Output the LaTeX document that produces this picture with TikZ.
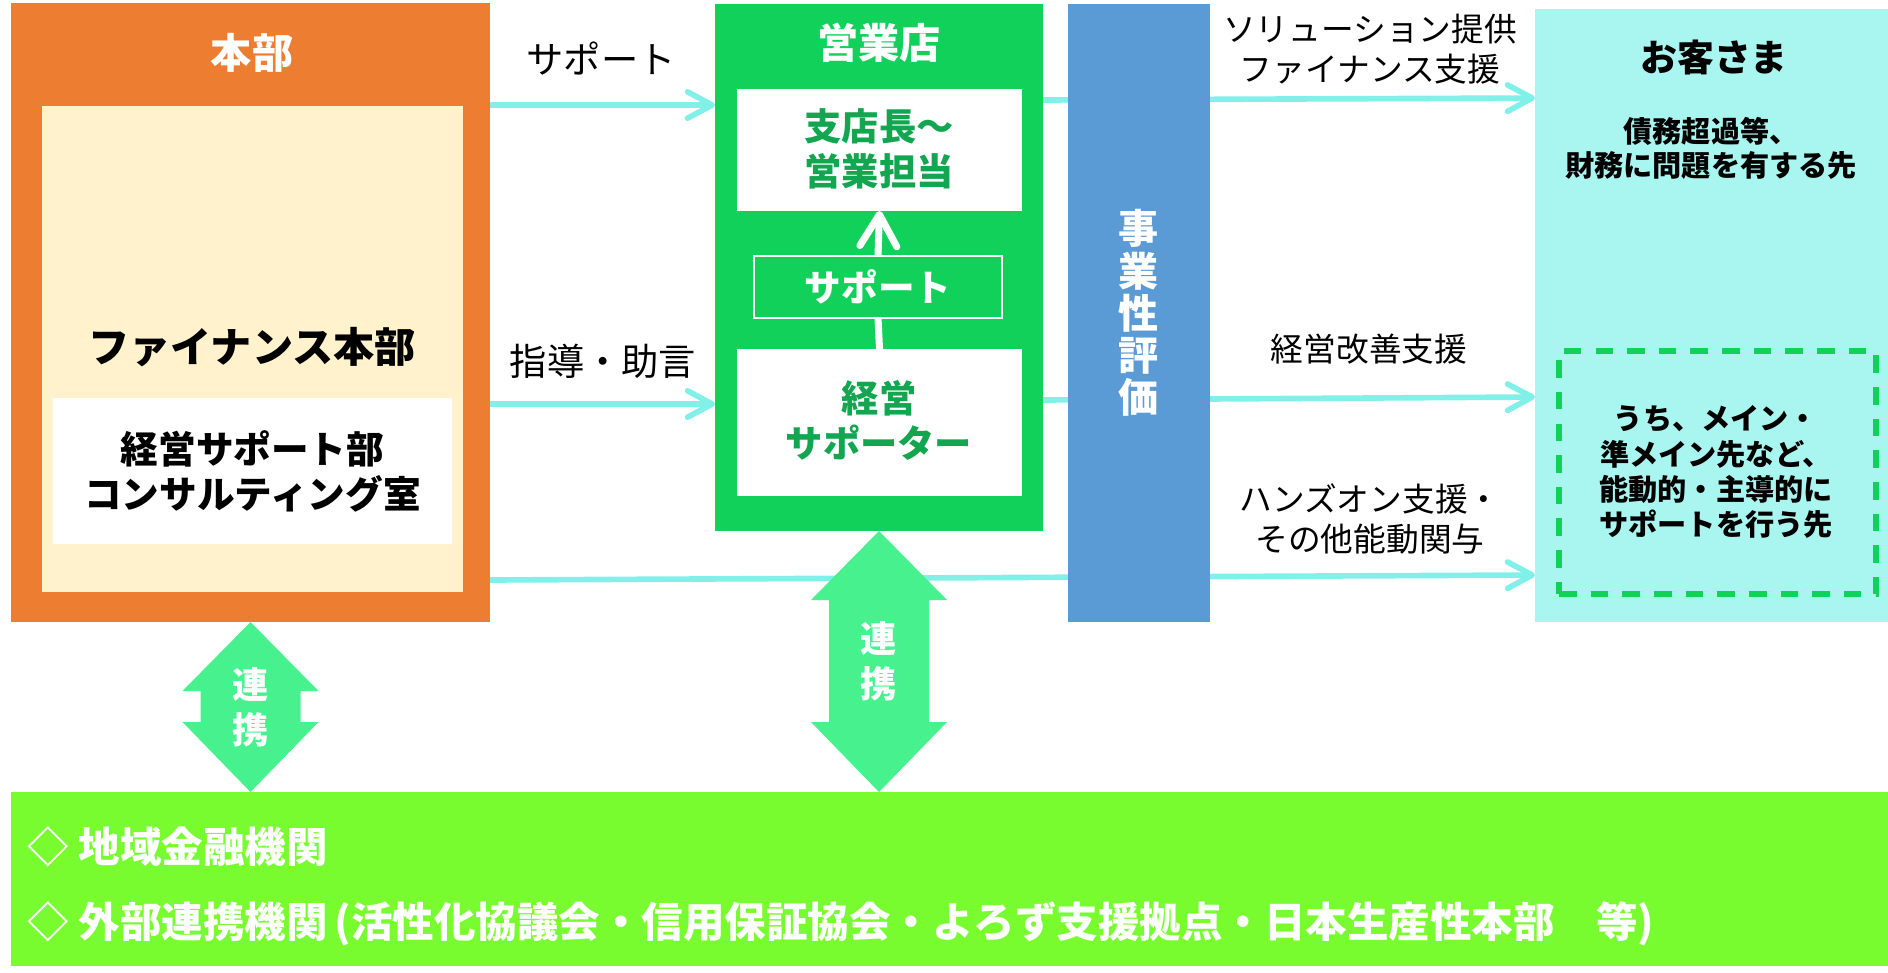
\documentclass[tikz,border=0pt]{standalone}
\usepackage{fontspec}
\setmainfont{Noto Sans CJK JP}
\usetikzlibrary{fit,calc,arrows.meta}
\definecolor{honbuorange}{HTML}{ED7D31}
\definecolor{honbucream}{HTML}{FFF2CC}
\definecolor{tengreen}{HTML}{12D15A}
\definecolor{tentext}{HTML}{12A650}
\definecolor{hyokablue}{HTML}{5B9BD5}
\definecolor{kyakucyan}{HTML}{A9F5F0}
\definecolor{flowcyan}{HTML}{80F0E8}
\definecolor{renkeigreen}{HTML}{47F28E}
\definecolor{kikanlime}{HTML}{78FC30}
\tikzset{area/.style={inner sep=0pt,outer sep=0pt,fit={#1}},
	flow/.style={draw=flowcyan,line width=1.6pt,-{Straight Barb[length=7pt,width=7.5pt,round]}},
	lbl/.style={font=\fontsize{10.6}{12.6}\selectfont,align=center},
	smalllbl/.style={font=\fontsize{9.3}{11.4}\selectfont,align=center},
	boxtxt/.style={font=\bfseries\fontsize{10.6}{12.6}\selectfont,align=center,text=tentext}}
\newcommand{\renkeiarrow}[2]{\fill[renkeigreen] (#1) -- ++(68,69) -- ++(-18,0) -- ($(#2)+(50,-70)$) -- ++(18,0) -- (#2)
	-- ++(-68,-70) -- ++(18,0) -- ($(#1)+(-50,69)$) -- ++(-18,0) -- cycle;}

\begin{document}
\begin{tikzpicture}[x=0.01cm,y=-0.01cm]
	\useasboundingbox (0,0) rectangle (1888,972);
	\node[area={(11,3) (490,622)},fill=honbuorange] (honbu) {};
	\node[area={(42,106) (463,592)},fill=honbucream] (finance) {};
	\node[area={(53,398) (452,544)},fill=white] (consul) {};
	\node[white,font=\bfseries\fontsize{11.7}{14}\selectfont] (honbutitle) at (252,53) {本部};
	\node[font=\bfseries\fontsize{11.7}{14}\selectfont] (financetxt) at (252,347) {ファイナンス本部};
	\node[font=\bfseries\fontsize{10.7}{12.8}\selectfont,align=center] (consultxt) at (consul) {経営サポート部\\コンサルティング室};
	\node[area={(715,4) (1043,531)},fill=tengreen] (eigyo) {};
	\node[white,font=\bfseries\fontsize{11.7}{14}\selectfont] (eigyotitle) at (879,43) {営業店};
	\node[area={(737,89) (1022,211)},fill=white] (shiten) {};
	\node[area={(754,256) (1002,318)},draw=white,line width=0.5pt] (support) {};
	\node[area={(737,349) (1022,496)},fill=white] (keiei) {};
	\node[boxtxt] (shitentxt) at (879,149) {支店長～\\営業担当};
	\node[white,font=\bfseries\fontsize{10.4}{12.5}\selectfont] (supporttxt) at (support) {サポート};
	\node[boxtxt,font=\bfseries\fontsize{10.6}{12.8}\selectfont] (keieitxt) at (879,420) {経営\\サポーター};
	\draw[white,line width=2pt,-{Straight Barb[length=9pt,width=10.5pt,round]}] (support.north) -- (shiten.south);
	\draw[white,line width=2pt] (keiei.north) -- (support.south);
	\node[area={(1535,9) (1888,622)},fill=kyakucyan] (kyaku) {};
	\node[area={(1559,351) (1876,594)},draw=tengreen,line width=1.5pt,dash pattern=on 5pt off 4pt] (main) {};
	\node[area={(11,792) (1888,966)},fill=kikanlime] (kikan) {};
	\draw[flow] (honbu.east |- 0,105) -- (eigyo.west |- 0,105);
	\draw[flow] (honbu.east |- 0,404) -- (eigyo.west |- 0,404);
	\draw[flow] (eigyo.east |- 0,100) -- (kyaku.west |- 0,98);
	\draw[flow] (eigyo.east |- 0,400) -- (kyaku.west |- 0,397);
	\draw[flow] (honbu.east |- 0,580) -- (kyaku.west |- 0,575);
	\node[area={(1068,4) (1210,622)},fill=hyokablue] (hyoka) {};
	\node[white,font=\bfseries\fontsize{11.4}{12}\selectfont,align=center] (hyokatxt) at (hyoka) {事\\業\\性\\評\\価};
	\coordinate (r1top) at (honbu.south);
	\coordinate (r1bot) at (honbu.south |- kikan.north);
	\coordinate (r2top) at (eigyo.south);
	\coordinate (r2bot) at (eigyo.south |- kikan.north);
	\renkeiarrow{r1top}{r1bot}
	\renkeiarrow{r2top}{r2bot}
	\node[white,font=\bfseries\fontsize{10.3}{12.9}\selectfont,align=center] (r1txt) at ($(r1top)!0.5!(r1bot)$) {連\\携};
	\node[white,font=\bfseries\fontsize{10.3}{12.9}\selectfont,align=center] (r2txt) at ($(r2top)!0.5!(r2bot)$) {連\\携};
	\node[lbl] (l1) at (601,59) {サポート};
	\node[lbl] (l2) at (603,361) {指導・助言};
	\node[smalllbl] (l3) at (1370,49) {ソリューション提供\\ファイナンス支援};
	\node[smalllbl] (l4) at (1369,349) {経営改善支援};
	\node[smalllbl] (l5) at (1370,519) {ハンズオン支援・\\その他能動関与};
	\node[font=\bfseries\fontsize{10.5}{12.6}\selectfont] (kyakutitle) at (1714,57) {お客さま};
	\node[font=\bfseries\fontsize{8.3}{9.7}\selectfont,align=center] (kyakutxt) at (1711,148) {債務超過等、\\財務に問題を有する先};
	\node[font=\bfseries\fontsize{8.3}{10}\selectfont,align=center] (maintxt) at (1716,472) {うち、メイン・\\準メイン先など、\\能動的・主導的に\\サポートを行う先};
	\node[white,font=\bfseries\fontsize{11.8}{14}\selectfont,anchor=west,inner sep=0pt] (k1) at (27,847) {◇ 地域金融機関};
	\node[white,font=\bfseries\fontsize{11.8}{14}\selectfont,anchor=west,inner sep=0pt] (k2) at (27,924) {◇ 外部連携機関\,(活性化協議会・信用保証協会・よろず支援拠点・日本生産性本部　等)};
\end{tikzpicture}
\end{document}
